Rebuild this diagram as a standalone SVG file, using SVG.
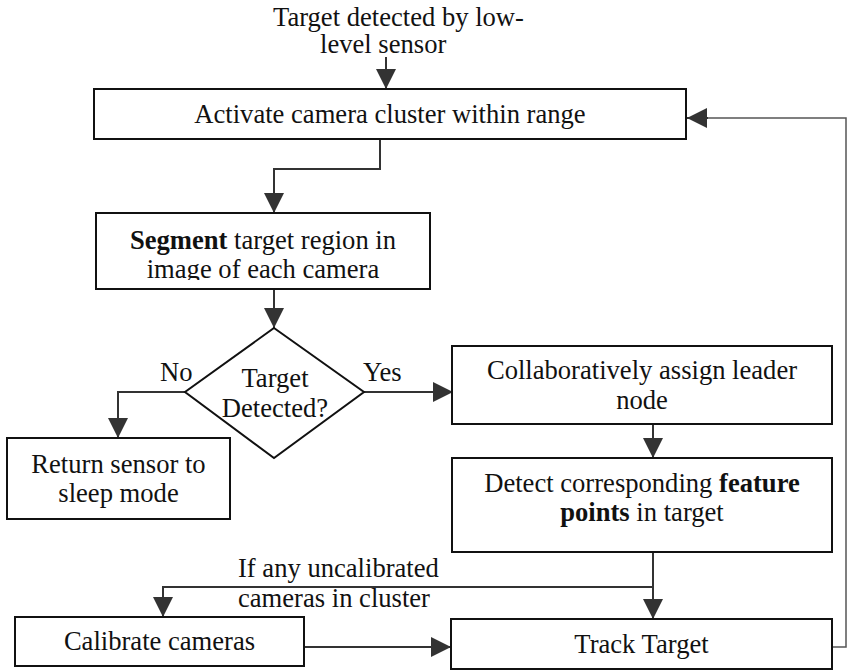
<svg xmlns="http://www.w3.org/2000/svg" width="847" height="671" viewBox="0 0 847 671" font-family="'Liberation Serif', Tinos, 'Times New Roman', Times, 'DejaVu Serif', serif">
  <style>
    .box { fill: #ffffff; stroke: #111111; stroke-width: 2; }
    .conn { fill: none; stroke: #333333; stroke-width: 2; }
    .feedback { fill: none; stroke: #555555; stroke-width: 1.5; }
    text { font-family: 'Liberation Serif', Tinos, 'Times New Roman', Times, 'DejaVu Serif', serif; font-size: 26.6px; fill: #111111; }
    .c { text-anchor: middle; }
    .b { font-weight: bold; }
  </style>
  <defs>
    <marker id="arrow" markerUnits="userSpaceOnUse" markerWidth="20" markerHeight="20" refX="20" refY="10" orient="auto">
      <path d="M0,0 L20,10 L0,20 z" fill="#333333"/>
    </marker>
    <clipPath id="segClip">
      <rect x="96" y="213" width="334" height="67"/>
    </clipPath>
  </defs>

  <rect width="847" height="671" fill="#ffffff"/>

  <!-- Connectors -->
  <g id="connectors">
    <path class="conn" d="M386,57 L386,89" marker-end="url(#arrow)"/>
    <path class="conn" d="M380,139 L380,169 L274,169 L274,213" marker-end="url(#arrow)"/>
    <path class="conn" d="M274,290 L274,328" marker-end="url(#arrow)"/>
    <path class="conn" d="M185,392 L118,392 L118,438" marker-end="url(#arrow)"/>
    <path class="conn" d="M364,392 L453,392" marker-end="url(#arrow)"/>
    <path class="conn" d="M653,424 L653,458" marker-end="url(#arrow)"/>
    <path class="conn" d="M653,552 L653,619" marker-end="url(#arrow)"/>
    <path class="conn" d="M653,587 L163,587 L163,617" marker-end="url(#arrow)"/>
    <path class="conn" d="M304,647 L451,647" marker-end="url(#arrow)"/>
    <path class="feedback" d="M832,647 L846,647 L846,118 L706,118"/>
    <path class="conn" d="M708,118 L687,118" marker-end="url(#arrow)"/>
    <text x="160" y="381">No</text>
    <text x="363" y="381">Yes</text>
    <text x="238" y="577">If any uncalibrated</text>
    <text x="238" y="607">cameras in cluster</text>
  </g>

  <!-- Trigger -->
  <g id="trigger">
    <text x="273" y="26">Target detected by low-</text>
    <text x="320" y="53">level sensor</text>
  </g>

  <g id="activate">
    <rect class="box" x="94" y="89" width="592" height="50"/>
    <text class="c" x="390" y="123">Activate camera cluster within range</text>
  </g>

  <g id="segment">
    <rect class="box" x="96" y="213" width="334" height="76"/>
    <g clip-path="url(#segClip)">
      <text class="c" x="263" y="249"><tspan class="b">Segment</tspan> target region in</text>
      <text class="c" x="263" y="278">image of each camera</text>
    </g>
  </g>

  <g id="decision">
    <polygon class="box" points="274,328 364,392 274,458 185,392"/>
    <text class="c" x="275" y="387">Target</text>
    <text class="c" x="275" y="417">Detected?</text>
  </g>

  <g id="sleep">
    <rect class="box" x="7" y="438" width="223" height="81"/>
    <text class="c" x="118.5" y="473">Return sensor to</text>
    <text class="c" x="118.5" y="502">sleep mode</text>
  </g>

  <g id="leader">
    <rect class="box" x="452" y="346" width="380" height="78"/>
    <text class="c" x="642" y="379">Collaboratively assign leader</text>
    <text class="c" x="642" y="409">node</text>
  </g>

  <g id="features">
    <rect class="box" x="452" y="458" width="380" height="94"/>
    <text class="c" x="642" y="492">Detect corresponding <tspan class="b">feature</tspan></text>
    <text class="c" x="642" y="521"><tspan class="b">points</tspan> in target</text>
  </g>

  <g id="calibrate">
    <rect class="box" x="15" y="617" width="289" height="49"/>
    <text class="c" x="159.5" y="650">Calibrate cameras</text>
  </g>

  <g id="track">
    <rect class="box" x="451" y="619" width="381" height="50"/>
    <text class="c" x="641.5" y="653">Track Target</text>
  </g>
</svg>
